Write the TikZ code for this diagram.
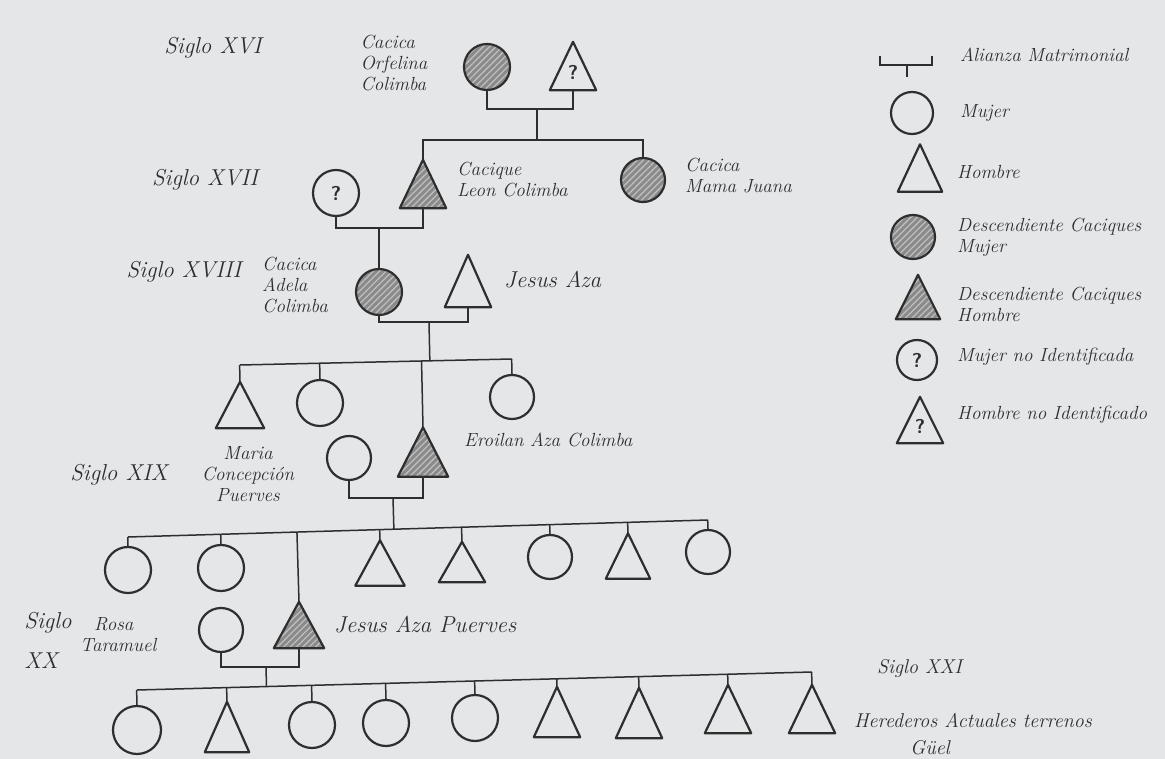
\documentclass[tikz,border=0pt]{standalone}
\usepackage{fontspec}
\usetikzlibrary{calc,patterns.meta}
\definecolor{paper}{HTML}{E4E6E7}
\definecolor{ink}{HTML}{2E2E2E}
\definecolor{hatchfill}{HTML}{8A8A8A}
\definecolor{hatchline}{HTML}{BEBEBE}
\tikzset{
  fem/.style={circle, draw=ink, line width=2.2pt, minimum size=46pt, inner sep=0pt},
  tribox/.style={rectangle, inner sep=0pt},
  tri/.style={draw=ink, line width=2.2pt, line join=round},
  hatched/.style={preaction={fill=hatchfill}, pattern={Lines[angle=45,distance=4.5pt,line width=1.3pt]}, pattern color=hatchline},
  link/.style={draw=ink, line width=1.5pt},
  qmark/.style={font=\sffamily\bfseries\fontsize{20}{20}\selectfont, text=ink, inner sep=0pt},
  hand/.style={font=\itshape\fontsize{19}{21}\selectfont, text=ink, inner sep=0pt, align=left},
  bighand/.style={font=\itshape\fontsize{23}{25}\selectfont, text=ink, inner sep=0pt},
  century/.style={font=\itshape\fontsize{23}{34}\selectfont, text=ink, inner sep=0pt, align=left},
}
\newcommand\tripers[6][]{%
  \node[tribox, minimum width=#5pt, minimum height=#6pt] (#2) at (#3,#4) {};
  \draw[tri,#1] (#2.north) -- (#2.south east) -- (#2.south west) -- cycle;}
\begin{document}
\begin{tikzpicture}[x=1pt,y=-1pt]
\useasboundingbox (0,0) rectangle (1165,759);
\fill[paper] (0,0) rectangle (1165,759);

% ---------- Siglo XVI ----------
\node[century] (c16) at (213,48) {Siglo XVI};
\node[hand] (n1) at (394,63) {Cacica\\Orfelina\\Colimba};
\node[fem, hatched] (o1) at (487,67) {};
\tripers{f1}{573}{66}{46}{48}
\node[qmark] (f1q) at ([yshift=-6pt]f1.center) {?};
\coordinate (m1) at (537,109);
\draw[link] (o1.south) |- (m1) -| (f1.south);
\coordinate (s1) at (537,140);
\draw[link] (m1) -- (s1);

% ---------- Siglo XVII ----------
\node[century] (c17) at (205,180) {Siglo XVII};
\node[fem, qmark] (q2) at (336,193) {?};
\tripers[hatched]{t2}{423}{184}{46}{48}
\node[fem, hatched, minimum size=44pt] (o3) at (643,180) {};
\node[hand] (n2) at (457,180) [anchor=west] {Cacique\\Leon Colimba};
\node[hand] (n3) at (685,176) [anchor=west] {Cacica\\Mama Juana};
\draw[link] (t2.north) |- (s1) -| (o3.north);
\coordinate (m2) at (379,228);
\draw[link] (q2.south) |- (m2) -| (t2.south);

% ---------- Siglo XVIII ----------
\node[century] (c18) at (184,272) {Siglo XVIII};
\node[fem, hatched] (o4) at (379,292) {};
\draw[link] (m2) -- (o4.north);
\tripers{t4}{468}{281}{46}{52}
\node[hand] (n4) at (295,285) {Cacica\\Adela\\Colimba};
\node[bighand] (n5) at (504,280) [anchor=west] {Jesus Aza};
\coordinate (m3) at (429,322);
\draw[link] (o4.south) |- (m3) -| (t4.south);

% children of Adela and Jesus Aza
\coordinate (b3l) at (240,365);
\coordinate (b3r) at (512,359);
\draw[link] (b3l) -- (b3r);
\draw[link] (m3) -- ($(b3l)!(m3)!(b3r)$);
\tripers{t5}{240}{405}{48}{46}
\node[fem] (o5) at (320,403) {};
\tripers[hatched]{t6}{423}{452}{50}{49}
\node[fem, minimum size=44pt] (o7) at (512,397) {};
\foreach \c in {t5,o5,t6,o7}
  \draw[link] (\c.north) -- ($(b3l)!(\c.north)!(b3r)$);
\node[hand] (n6) at (464,440) [anchor=west] {Eroilan Aza Colimba};

% ---------- Siglo XIX ----------
\node[century] (c19) at (119,475) {Siglo XIX};
\node[hand, align=center] (n7) at (248,474) {Maria\\Concepción\\Puerves};
\node[fem, minimum size=44pt] (o8) at (349,458) {};
\coordinate (m4) at (393,498);
\draw[link] (o8.south) |- (m4) -| (t6.south);

\coordinate (b2l) at (128,537);
\coordinate (b2r) at (708,520);
\draw[link] (b2l) -- (b2r);
\draw[link] (m4) -- ($(b2l)!(m4)!(b2r)$);
\node[fem] (o9) at (128,570) {};
\node[fem] (o10) at (221,568) {};
\tripers[hatched]{t11}{299}{625}{50}{46}
\tripers{t12}{380}{563}{49}{45}
\tripers{t13}{462}{562}{46}{40}
\node[fem, minimum size=44pt] (o14) at (550,557) {};
\tripers{t15}{628}{556}{44}{45}
\node[fem, minimum size=44pt] (o16) at (708,552) {};
\foreach \c in {o9,o10,t11,t12,t13,o14,t15,o16}
  \draw[link] (\c.north) -- ($(b2l)!(\c.north)!(b2r)$);

% ---------- Siglo XX ----------
\node[century, font=\itshape\fontsize{23}{40}\selectfont] (c20) at (48,640) {Siglo\\XX};
\node[hand] (n8) at (80,635) [anchor=west] {\hspace*{14pt}Rosa\\Taramuel};
\node[fem, minimum size=44pt] (o17) at (221,630) {};
\node[bighand] (n9) at (334,625) [anchor=west] {Jesus Aza Puerves};
\coordinate (m5) at (266,667);
\draw[link] (o17.south) |- (m5) -| (t11.south);

\coordinate (b1l) at (137,690);
\coordinate (b1r) at (812,672);
\draw[link] (b1l) -- (b1r);
\draw[link] (m5) -- ($(b1l)!(m5)!(b1r)$);
\node[fem, minimum size=48pt] (d1) at (137,730) {};
\tripers{d2}{227}{727}{44}{50}
\node[fem] (d3) at (312,725) {};
\node[fem] (d4) at (386,723) {};
\node[fem] (d5) at (475,718) {};
\tripers{d6}{557}{712}{46}{50}
\tripers{d7}{639}{713}{46}{50}
\tripers{d8}{728}{709}{46}{48}
\tripers{d9}{812}{709}{46}{48}
\foreach \c in {d1,d2,d3,d4,d5,d6,d7,d8,d9}
  \draw[link] (\c.north) -- ($(b1l)!(\c.north)!(b1r)$);

% ---------- Siglo XXI ----------
\node[hand, font=\itshape\fontsize{20}{22}\selectfont] (c21) at (877,668) [anchor=west] {Siglo XXI};
\node[hand, font=\itshape\fontsize{20}{22}\selectfont] (n10) at (854,720) [anchor=west] {Herederos Actuales terrenos};
\node[hand, font=\itshape\fontsize{20}{22}\selectfont] (n11) at (930,748) {Güel};

% ---------- Legend ----------
\coordinate (a1) at (880,56);
\coordinate (a2) at (932,56);
\coordinate (am) at (907,65);
\coordinate (ad) at (907,77);
\draw[link] (a1) |- (am) -| (a2);
\draw[link] (am) -- (ad);
\node[hand] (l1) at (960,55) [anchor=west] {Alianza Matrimonial};

\node[fem, minimum size=42pt] (lg1) at (912,113) {};
\node[hand] (l2) at (960,113) [anchor=west] {Mujer};

\tripers{lg2}{920}{168}{44}{47}
\node[hand] (l3) at (957,172) [anchor=west] {Hombre};

\node[fem, hatched, minimum size=44pt] (lg3) at (913,237) {};
\node[hand] (l4) at (957,237) [anchor=west] {Descendiente Caciques\\Mujer};

\tripers[hatched]{lg4}{918}{297}{44}{44}
\node[hand] (l5) at (957,304) [anchor=west] {Descendiente Caciques\\Hombre};

\node[fem, qmark, minimum size=40pt] (lg5) at (917,360) {?};
\node[hand] (l6) at (957,357) [anchor=west] {Mujer no Identificada};

\tripers{lg6}{920}{420}{46}{46}
\node[qmark] (lg6q) at ([yshift=-6pt]lg6.center) {?};
\node[hand] (l7) at (957,415) [anchor=west] {Hombre no Identificado};
\end{tikzpicture}
\end{document}
